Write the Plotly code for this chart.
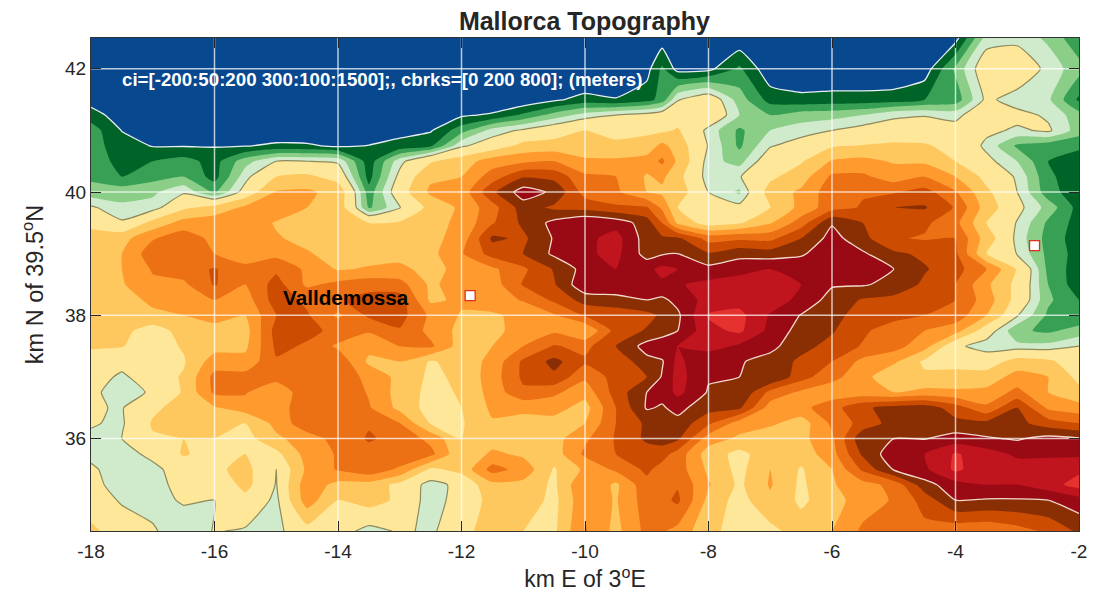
import plotly.graph_objects as go

# grid positions (km E of 3E, km N of 39.5N)
x_km = [-18, -17.5, -17, -16.5, -16, -15.5, -15, -14.5, -14, -13.5, -13, -12.5, -12, -11.5, -11, -10.5, -10,
        -9.5, -9, -8.75, -8.5, -8, -7.5, -7, -6.5, -6, -5.5, -5, -4.5, -4, -3.5, -3, -2.5, -2]
y_km = [34.5, 35, 35.25, 35.5, 35.75, 36, 36.25, 36.5, 36.75, 37, 37.25, 37.5, 37.75, 38, 38.25, 38.5, 38.75,
        39, 39.25, 39.5, 39.75, 40, 40.25, 40.5, 40.75, 41, 41.25, 41.5, 42, 42.5]

# elevation in meters, one list per row of the map
elev_3450 = [320, 250, 210, 150, 205, 190, 180, 260, 240, 170, 210, 190, 240, 390, 300, 280, 510, 370, 530, 510,
             470, 320, 270, 270, 350, 400, 520, 530, 570, 530, 520, 560, 620, 720]
elev_3500 = [250, 190, 170, 210, 200, 270, 180, 450, 300, 340, 280, 160, 240, 330, 360, 270, 480, 390, 550, 570,
             620, 370, 260, 380, 280, 360, 450, 510, 640, 800, 790, 790, 800, 860]
elev_3525 = [215, 180, 170, 230, 220, 330, 195, 460, 370, 360, 270, 170, 225, 370, 370, 280, 500, 380, 570, 580,
             590, 410, 280, 410, 280, 390, 460, 530, 760, 860, 900, 900, 960, 1040]
elev_3550 = [210, 170, 180, 240, 280, 330, 200, 420, 510, 570, 480, 280, 330, 540, 460, 290, 420, 520, 620, 560,
             550, 380, 270, 400, 290, 400, 620, 810, 880, 1020, 940, 950, 960, 980]
elev_3575 = [185, 170, 220, 310, 260, 300, 270, 440, 510, 570, 590, 530, 310, 420, 380, 350, 520, 600, 650, 640,
             560, 350, 270, 360, 340, 460, 720, 860, 900, 1010, 950, 880, 880, 880]
elev_3600 = [190, 200, 290, 300, 300, 260, 380, 450, 540, 610, 570, 470, 300, 350, 350, 360, 480, 610, 720, 750,
             720, 450, 380, 330, 370, 480, 780, 800, 795, 840, 810, 790, 830, 810]
elev_3625 = [205, 190, 310, 340, 350, 300, 430, 570, 590, 590, 500, 290, 290, 390, 370, 360, 400, 600, 720, 780,
             770, 620, 450, 420, 350, 520, 640, 740, 770, 730, 730, 730, 650, 600]
elev_3650 = [206, 195, 280, 340, 390, 450, 440, 580, 590, 510, 370, 260, 300, 420, 420, 440, 360, 600, 810, 790,
             830, 740, 720, 450, 470, 560, 680, 740, 760, 650, 520, 700, 480, 440]
elev_3675 = [215, 170, 210, 310, 520, 510, 400, 590, 590, 490, 360, 270, 310, 440, 580, 520, 440, 640, 800, 830,
             930, 790, 800, 570, 480, 440, 440, 400, 430, 420, 430, 530, 400, 330]
elev_3700 = [240, 185, 250, 310, 530, 540, 550, 590, 570, 470, 370, 280, 320, 450, 620, 680, 520, 640, 700, 810,
             940, 810, 800, 800, 640, 530, 440, 310, 320, 330, 340, 440, 400, 270]
elev_3725 = [260, 230, 270, 290, 450, 430, 590, 590, 570, 380, 400, 290, 340, 430, 620, 730, 620, 620, 770, 790,
             930, 800, 810, 760, 680, 600, 470, 420, 280, 270, 250, 340, 320, 240]
elev_3750 = [310, 305, 250, 310, 360, 380, 620, 590, 480, 430, 500, 520, 350, 400, 500, 610, 570, 700, 840, 870,
             900, 950, 880, 830, 730, 670, 590, 540, 440, 215, 170, 165, 165, 200]
elev_3775 = [330, 330, 250, 340, 380, 360, 640, 620, 580, 510, 590, 470, 370, 380, 430, 480, 400, 640, 710, 750,
             800, 970, 1020, 870, 760, 710, 620, 540, 500, 440, 240, 110, 90, 120]
elev_3800 = [330, 340, 380, 400, 420, 400, 600, 610, 480, 620, 640, 480, 390, 390, 420, 490, 610, 640, 670, 720,
             780, 1010, 1030, 890, 795, 730, 660, 640, 600, 560, 400, 205, 90, 60]
elev_3825 = [340, 360, 420, 410, 500, 450, 650, 580, 590, 640, 650, 380, 420, 440, 510, 620, 740, 760, 800, 780,
             830, 940, 960, 960, 870, 760, 690, 670, 640, 600, 450, 260, 110, 50]
elev_3850 = [350, 390, 480, 480, 610, 500, 640, 480, 530, 560, 540, 380, 450, 450, 610, 690, 880, 880, 870, 880,
             890, 930, 960, 960, 900, 810, 810, 770, 680, 600, 420, 270, 100, 20]
elev_3875 = [350, 400, 510, 550, 610, 510, 580, 480, 390, 410, 420, 370, 430, 480, 580, 710, 840, 900, 870, 930,
             900, 830, 860, 900, 900, 900, 830, 800, 710, 640, 500, 290, 85, 25]
elev_3900 = [350, 400, 560, 580, 500, 480, 470, 410, 360, 360, 370, 370, 490, 640, 700, 820, 880, 930, 760, 790,
             800, 710, 770, 750, 780, 900, 815, 720, 680, 620, 300, 195, 85, 30]
elev_3925 = [330, 360, 490, 560, 470, 470, 410, 370, 360, 340, 340, 370, 440, 720, 680, 810, 870, 940, 750, 720,
             720, 560, 580, 570, 700, 840, 730, 610, 590, 600, 350, 180, 80, 25]
elev_3950 = [280, 210, 330, 440, 470, 470, 390, 370, 370, 300, 310, 370, 420, 590, 720, 830, 900, 860, 750, 600,
             380, 250, 290, 390, 550, 790, 700, 660, 620, 530, 300, 195, 90, 30]
elev_3975 = [210, 160, 170, 280, 330, 420, 470, 400, 360, 90, 195, 330, 420, 560, 750, 680, 660, 620, 610, 480,
             300, 240, 220, 300, 430, 560, 610, 700, 710, 590, 350, 220, 130, 30]
elev_4000 = [120, 130, 140, 190, 90, 230, 410, 420, 360, 70, 250, 420, 440, 680, 850, 780, 560, 520, 400, 380,
             350, 200, 140, 340, 420, 560, 590, 590, 640, 510, 320, 200, 70, 20]
elev_4025 = [90, 50, 80, 100, 30, 180, 300, 320, 260, 30, 220, 380, 400, 550, 690, 670, 520, 500, 390, 420,
             330, 170, 195, 280, 350, 520, 520, 450, 500, 400, 270, 190, 60, 20]
elev_4050 = [75, 35, 50, 70, 30, 130, 200, 200, 190, 20, 180, 290, 350, 450, 480, 500, 420, 420, 440, 520,
             380, 170, 130, 250, 290, 410, 430, 390, 380, 300, 220, 150, 50, 25]
elev_4075 = [70, 25, -3, -3, -3, -3, 10, 8, -10, 2, 15, 40, 190, 240, 330, 340, 330, 320, 340, 430,
             350, 195, 90, 195, 230, 290, 305, 320, 310, 270, 185, 90, 70, 60]
elev_4100 = [75, -2, -50, -40, -40, -40, -40, -40, -40, -40, -15, -5, 80, 170, 210, 250, 300, 270, 280, 280,
             310, 180, 90, 150, 175, 200, 225, 230, 250, 230, 215, 190, 210, 125]
elev_4125 = [25, -30, -50, -50, -50, -50, -50, -50, -50, -50, -45, -40, -10, 10, 60, 120, 170, 200, 220, 240,
             250, 270, 150, 100, 125, 130, 150, 190, 195, 180, 260, 220, 190, 120]
elev_4150 = [-25, -50, -60, -60, -60, -60, -60, -60, -60, -60, -60, -60, -58, -60, -40, -10, 20, 5, 30, 70,
             195, 250, 125, 30, 15, 20, 20, 25, 50, 70, 215, 170, 160, 40]
elev_4200 = [-80, -80, -80, -80, -80, -80, -80, -80, -80, -80, -80, -80, -80, -80, -80, -80, -80, -80, -20, 60,
             -20, -15, 60, -40, -50, -50, -50, -50, -30, 110, 250, 260, 180, 120]
elev_4250 = [-90, -90, -90, -90, -90, -90, -90, -90, -90, -90, -90, -90, -90, -90, -90, -90, -90, -90, -60, -30,
             -60, -60, -40, -60, -90, -90, -90, -90, -60, -20, 170, 180, 140, 60]

elevation = [elev_3450, elev_3500, elev_3525, elev_3550, elev_3575, elev_3600, elev_3625, elev_3650, elev_3675,
             elev_3700, elev_3725, elev_3750, elev_3775, elev_3800, elev_3825, elev_3850, elev_3875, elev_3900,
             elev_3925, elev_3950, elev_3975, elev_4000, elev_4025, elev_4050, elev_4075, elev_4100, elev_4125,
             elev_4150, elev_4200, elev_4250]
assert len(elevation) == len(y_km)
assert all(len(row) == len(x_km) for row in elevation)

# colour bands
band_edges = [-200, 0, 50, 100, 150, 200, 300, 400, 500, 600, 700, 800, 900, 1000, 1500]
band_colors = ["#08488e", "#006428", "#37a055", "#8ace88", "#d0ebcb", "#fee799", "#fec85f", "#fe9a2e",
               "#ec7014", "#cc4c02", "#8a2f04", "#990a14", "#c0141e", "#e5322e"]

x_ticks = [-18, -16, -14, -12, -10, -8, -6, -4, -2]
x_labels = ["-18", "-16", "-14", "-12", "-10", "-8", "-6", "-4", "-2"]
y_ticks = [36, 38, 40, 42]
x_range = [-18, -2]
y_range = [34.5, 42.5]

site_x = [-11.86, -2.72]
site_y = [38.32, 39.13]

TEXT = "#262626"
FONT = "Liberation Sans"
STEP = 50

# plotly spreads the scale from start-size/2 to end+size/2
span = band_edges[-1] - band_edges[0] + STEP
colorscale = []
for low, high, color in zip(band_edges[:-1], band_edges[1:], band_colors):
    colorscale.append([(low - band_edges[0] + STEP / 2) / span, color])
    colorscale.append([(high - band_edges[0] + STEP / 2) / span, color])
colorscale[0][0] = 0
colorscale[-1][0] = 1

fig = go.Figure()

fig.add_trace(
    go.Contour(
        x=x_km,
        y=y_km,
        z=elevation,
        colorscale=colorscale,
        showscale=False,
        contours=dict(start=band_edges[0], end=band_edges[-1], size=STEP, coloring="fill", showlines=False),
        line=dict(width=0, smoothing=0.5),
        hoverinfo="skip",
    )
)

# break contours drawn on top of the fill
for level, color, width in [(0, "#e8eef2", 1.3), (200, "#8f8a5c", 1.2), (800, "#f3d9d0", 1.3)]:
    fig.add_trace(
        go.Contour(
            x=x_km,
            y=y_km,
            z=elevation,
            showscale=False,
            contours=dict(start=level, end=level, size=1, coloring="none"),
            line=dict(color=color, width=width, smoothing=0.5),
            hoverinfo="skip",
        )
    )

# grid sits over the map
for tick in x_ticks[1:-1]:
    fig.add_trace(go.Scatter(x=[tick, tick], y=y_range, mode="lines", hoverinfo="skip",
                             line=dict(color="rgba(255,255,255,0.72)", width=1.5)))
for tick in y_ticks:
    fig.add_trace(go.Scatter(x=x_range, y=[tick, tick], mode="lines", hoverinfo="skip",
                             line=dict(color="rgba(255,255,255,0.72)", width=1.5)))

fig.add_trace(
    go.Scatter(
        x=site_x,
        y=site_y,
        mode="markers",
        hoverinfo="skip",
        marker=dict(symbol="square", size=10, color="white", line=dict(color="#e0301e", width=1.3)),
    )
)

fig.add_annotation(x=-17.5, y=41.82, text="<b>ci=[-200:50:200 300:100:1500];, cbrks=[0 200 800]; (meters)</b>",
                   xanchor="left", showarrow=False, xshift=-2, font=dict(family=FONT, size=18.7, color="white"))
fig.add_annotation(x=-14.89, y=38.29, text="<b>Valldemossa</b>", xanchor="left", showarrow=False, xshift=-2,
                   font=dict(family=FONT, size=20.7, color="black"))

axis_style = dict(
    showgrid=False,
    zeroline=False,
    showline=True,
    linecolor="#333333",
    linewidth=1,
    mirror="allticks",
    ticks="inside",
    ticklen=10,
    tickwidth=1,
    tickcolor="#262626",
    tickfont=dict(family=FONT, size=19, color=TEXT),
)

fig.update_xaxes(range=x_range, tickmode="array", tickvals=x_ticks, ticktext=x_labels, ticklabelstandoff=3,
                 title=dict(text="km E of 3<sup>o</sup>E", font=dict(family=FONT, size=23, color=TEXT), standoff=10),
                 **axis_style)
fig.update_yaxes(range=y_range, tickmode="array", tickvals=y_ticks,
                 title=dict(text="km N of 39.5<sup>o</sup>N", font=dict(family=FONT, size=23.5, color=TEXT), standoff=14),
                 **axis_style)

fig.update_layout(
    title=dict(text="<b>Mallorca Topography</b>", x=0.5235, xanchor="center", y=0.978, yanchor="middle",
               font=dict(family=FONT, size=25, color=TEXT)),
    width=1101,
    height=600,
    margin=dict(l=83, r=30, t=30, b=77),
    showlegend=False,
    plot_bgcolor="white",
    paper_bgcolor="white",
)

fig.write_html("out.html")
